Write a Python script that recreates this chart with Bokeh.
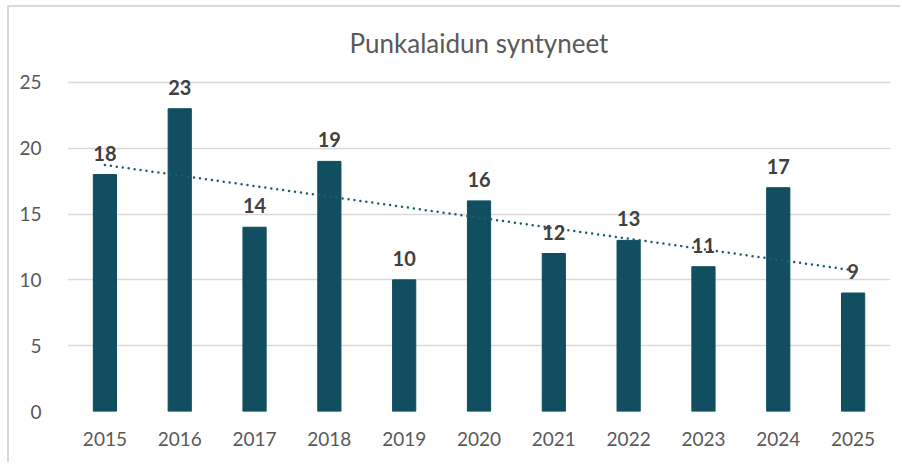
from bokeh.plotting import figure
from bokeh.models import ColumnDataSource, FactorRange, Range1d, FixedTicker
from bokeh.core.properties import value
from bokeh.embed import file_html
from bokeh.resources import INLINE

years = ["2015", "2016", "2017", "2018", "2019", "2020", "2021", "2022", "2023", "2024", "2025"]
births = [18, 23, 14, 19, 10, 16, 12, 13, 11, 17, 9]
y_ticks = [0, 5, 10, 15, 20, 25]
title_text = "Punkalaidun syntyneet"

# linear trend line (least squares) from the data
n = len(births)
xs = list(range(n))
mx = sum(xs) / n
my = sum(births) / n
slope = sum((x - mx) * (y - my) for x, y in zip(xs, births)) / sum((x - mx) ** 2 for x in xs)
icpt = my - slope * mx
trend = [icpt + slope * x for x in xs]

FONT = "Lato"
BAR = "#104e60"
TXT = "#595959"

p = figure(width=893, height=457, output_backend="svg", toolbar_location=None,
           x_range=FactorRange(*years, range_padding=0), y_range=Range1d(0, 25.6),
           min_border_left=58, min_border_right=12, min_border_top=67, min_border_bottom=53)

p.title.text = title_text
p.title.align = "center"
p.title.text_font = FONT
p.title.text_font_size = "26px"
p.title.text_font_style = "normal"
p.title.text_color = TXT
p.title.standoff = 32

src = ColumnDataSource(dict(year=years, births=births, lab=[str(b) for b in births], trend=trend))

p.vbar(x="year", top="births", width=0.31, source=src, fill_color=BAR, line_color=BAR)
p.line(x="year", y="trend", source=src, line_color="#1d5d6f", line_width=2.5,
       line_dash="0 6", line_cap="round")
p.text(x="year", y="births", text="lab", source=src, text_align="center", text_baseline="bottom",
       y_offset=-14, text_font=value(FONT), text_font_style="bold", text_font_size="20px",
       text_color="#404040")

p.xgrid.visible = False
p.ygrid.grid_line_color = "#d9d9d9"
p.ygrid.grid_line_width = 1.5
p.yaxis.ticker = FixedTicker(ticks=y_ticks)
for ax in (p.xaxis[0], p.yaxis[0]):
    ax.axis_line_color = None
    ax.major_tick_line_color = None
    ax.minor_tick_line_color = None
    ax.major_label_text_font = FONT
    ax.major_label_text_font_size = "19px"
    ax.major_label_text_color = TXT
p.yaxis.major_label_standoff = 20
p.xaxis.major_label_standoff = 14
p.outline_line_color = None
p.styles = {"border-top": "2px solid #d9d9d9", "border-left": "2px solid #d9d9d9",
            "margin-left": "7px", "margin-top": "5px"}

open("out.html", "w").write(file_html(p, INLINE))
